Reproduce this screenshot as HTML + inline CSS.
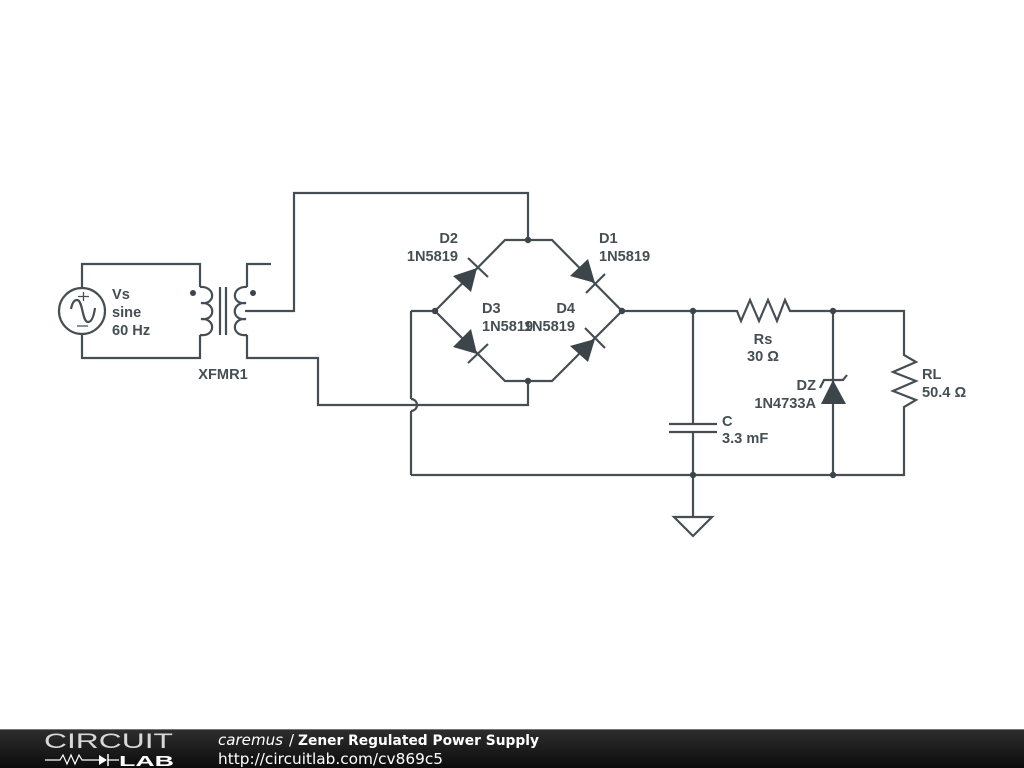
<!DOCTYPE html>
<html><head><meta charset="utf-8">
<style>
html,body{margin:0;padding:0;background:#fff;width:1024px;height:768px;overflow:hidden}
svg{display:block}
.w{fill:none;stroke:#454f53;stroke-width:2.2;stroke-linejoin:miter}
.d{fill:#3c464a;stroke:none}
.t{font:bold 14.6px "Liberation Sans",sans-serif;fill:#454f53}
</style></head><body>
<svg width="1024" height="768" viewBox="0 0 1024 768" xmlns="http://www.w3.org/2000/svg">
<defs><linearGradient id="g" x1="0" y1="0" x2="0" y2="1"><stop offset="0" stop-color="#2e2e2e"/><stop offset="1" stop-color="#0c0c0c"/></linearGradient></defs>
<rect width="1024" height="768" fill="#fff"/>
<!-- source -->
<circle class="w" cx="82" cy="311" r="23"/>
<path class="w" d="M82 288V264H200V287M82 334V358H200V335"/>
<path class="w" d="M71 309C72 304 74 300 77 300C83 300 82 322 88 322C92 322 94 315 95 308"/>
<path class="w" style="stroke-width:1.3" d="M78 296.500H89M83.500 292V301M77 326H88"/>
<!-- transformer -->
<path class="w" d="M200 287C216 286 216 305 201 303C216 302 216 321 201 319C216 318 216 337 200 335"/>
<path class="w" d="M220 287V335M226 287V335"/>
<path class="w" d="M247 287C231 286 231 305 246 303C231 302 231 321 246 319C231 318 231 337 247 335"/>
<circle class="d" cx="193" cy="293" r="3"/><circle class="d" cx="253" cy="293" r="3"/>
<path class="w" d="M271 264H247V287M247 335V358H318V405H411M245 311H294V193H528V240"/>
<path class="w" d="M411 311V399M411 411V475M411 399A6 6 0 0 1 411 411"/>
<path class="w" d="M411 405H528V381"/>
<path class="w" d="M411 311H435"/>
<!-- bridge -->
<path class="w" d="M435 311L505 240H552L622 311L552 381H505L435 311"/>
<path class="w" d="M622 311H737L741 321L750 300L759 321L768 300L777 321L785 300L790 311H904V355L916 362L893 372L916 381L893 391L916 400L904 407V475H411"/>
<path class="w" d="M468 258L488 277M586 293L605 274M468 363L488 344M585 328L605 348"/>
<polygon class="d" points="477,268 453,276 471,292"/>
<polygon class="d" points="595,283 570,276 588,259"/>
<polygon class="d" points="477,354 453,347 471,329"/>
<polygon class="d" points="595,339 570,346 588,362"/>
<!-- cap, ground -->
<path class="w" d="M693 311V424M669 424H717M669 432H717M693 432V517"/>
<polygon class="w" points="674,517 712,517 693,536"/>
<!-- zener -->
<path class="w" d="M833 311V475M820 388L824 380H843L847 375"/>
<polygon class="d" points="833,380 821,404 846,404"/>
<!-- junctions -->
<g class="d">
<circle cx="528" cy="240" r="3.2"/><circle cx="528" cy="381" r="3.2"/><circle cx="435" cy="311" r="3.2"/><circle cx="622" cy="311" r="3.2"/>
<circle cx="693" cy="311" r="3.2"/><circle cx="833" cy="311" r="3.2"/><circle cx="693" cy="475" r="3.2"/><circle cx="833" cy="475" r="3.2"/>
</g>
<!-- labels -->
<text class="t" x="112" y="299">Vs</text><text class="t" x="112" y="317">sine</text><text class="t" x="112" y="335">60 Hz</text>
<text class="t" x="223" y="379" text-anchor="middle">XFMR1</text>
<text class="t" x="458" y="243" text-anchor="end">D2</text><text class="t" x="458" y="261" text-anchor="end">1N5819</text>
<text class="t" x="599" y="243">D1</text><text class="t" x="599" y="261">1N5819</text>
<text class="t" x="482" y="313">D3</text><text class="t" x="482" y="331">1N5819</text>
<text class="t" x="575" y="313" text-anchor="end">D4</text><text class="t" x="575" y="331" text-anchor="end">1N5819</text>
<text class="t" x="763" y="344" text-anchor="middle">Rs</text><text class="t" x="763" y="361" text-anchor="middle">30 Ω</text>
<text class="t" x="816" y="390" text-anchor="end">DZ</text><text class="t" x="816" y="408" text-anchor="end">1N4733A</text>
<text class="t" x="722" y="426">C</text><text class="t" x="722" y="443">3.3 mF</text>
<text class="t" x="922" y="379">RL</text><text class="t" x="922" y="397">50.4 Ω</text>
<!-- footer -->
<rect x="0" y="729" width="1024" height="39" fill="url(#g)"/>
<rect x="0" y="729" width="1024" height="1" fill="#777"/>
<text x="44" y="748" textLength="129" lengthAdjust="spacingAndGlyphs" style="font:21px 'Liberation Sans',sans-serif;fill:#d8d8d8">CIRCUIT</text>
<path d="M45 760H60L63 755L67 764L71 755L75 764L79 755L82 760H99M108 760H119" fill="none" stroke="#fff" stroke-width="1.2"/>
<polygon points="99,755 99,765 107,760" fill="#fff"/><path d="M108 754V766" stroke="#fff" stroke-width="1.5"/>
<text x="119" y="766" textLength="55" lengthAdjust="spacingAndGlyphs" style="font:bold 15px 'Liberation Sans',sans-serif;fill:#fff">LAB</text>
<text x="218" y="745" textLength="65" lengthAdjust="spacingAndGlyphs" style="font:italic 15px 'DejaVu Sans',sans-serif;fill:#fff">caremus</text>
<text x="289" y="745" style="font:15px 'DejaVu Sans',sans-serif;fill:#fff">/</text>
<text x="298" y="745" textLength="241" lengthAdjust="spacingAndGlyphs" style="font:bold 14px 'DejaVu Sans',sans-serif;fill:#fff">Zener Regulated Power Supply</text>
<text x="218" y="764" textLength="225" lengthAdjust="spacingAndGlyphs" style="font:15px 'DejaVu Sans',sans-serif;fill:#fff">http://circuitlab.com/cv869c5</text>
</svg>
</body></html>
